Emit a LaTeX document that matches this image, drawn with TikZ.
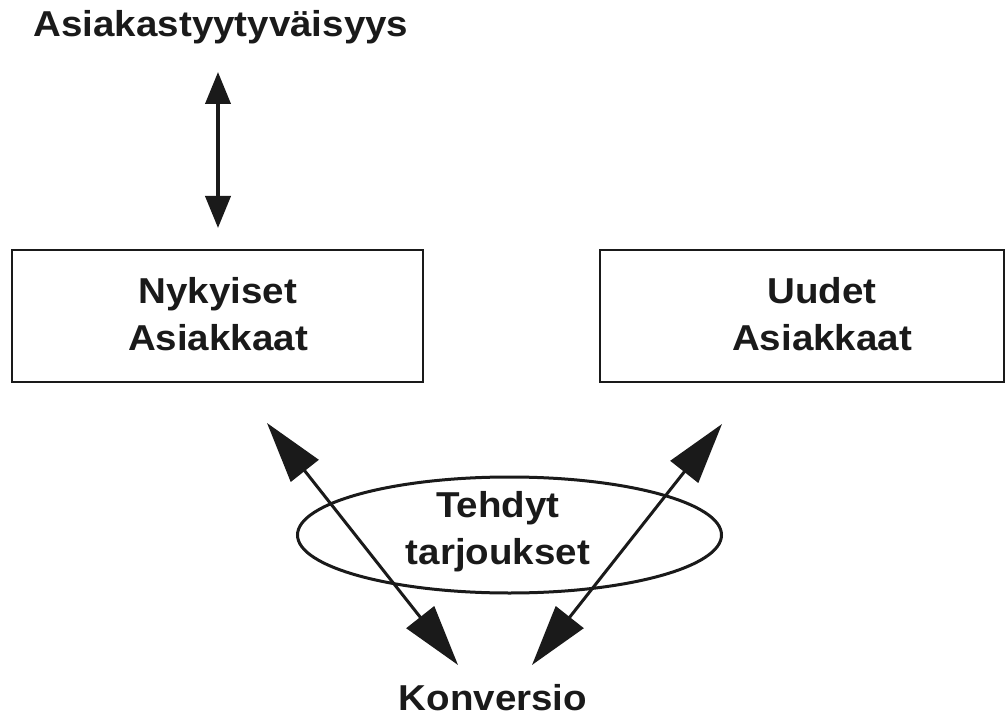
\documentclass[tikz,border=0pt]{standalone}
\usepackage{fontspec}
\setmainfont[FakeStretch=1.07]{Liberation Sans}
\usetikzlibrary{arrows.meta,shapes.geometric}
\definecolor{ink}{HTML}{1A1A1A}
\tikzset{
  lbl/.style={font=\bfseries\fontsize{36bp}{47bp}\selectfont, text=ink, inner sep=0pt, align=center},
  box/.style={draw=ink, line width=2.6bp, rectangle, minimum height=132bp, inner sep=0pt},
  oval/.style={draw=ink, line width=3bp, ellipse, minimum width=424bp, minimum height=116bp, inner sep=0pt},
  varrow/.style={draw=ink, line width=4bp, {Triangle[length=32bp,width=25bp]}-{Triangle[length=32bp,width=25bp]}},
  darrow/.style={draw=ink, line width=3bp, {Triangle[length=61bp,width=35bp]}-{Triangle[length=61bp,width=35bp]}},
}
\begin{document}
\begin{tikzpicture}[x=1bp,y=-1bp]
\fill[white] (0,0) rectangle (1006,727);
\useasboundingbox (0,0) rectangle (1006,727);
\node[lbl, anchor=base] (title) at (221,37) {Asiakastyytyväisyys};
\node[box, minimum width=411bp] (nyk) at (217.5,316) {};
\node[lbl] (nykt) at (218,314) {Nykyiset\\Asiakkaat};
\node[box, minimum width=404bp] (uud) at (802,316) {};
\node[lbl] (uudt) at (822,314) {Uudet\\Asiakkaat};
\node[oval] (teh) at (509.5,535) {};
\node[lbl] (teht) at (498,532) {Tehdyt\\tarjoukset};
\node[lbl, anchor=base] (konv) at (493,710) {Konversio};
\coordinate (v1) at (218,72);
\coordinate (v2) at (218,228);
\coordinate (a1) at (267,423);
\coordinate (a2) at (458,665);
\coordinate (b1) at (722,424);
\coordinate (b2) at (532,665);
\draw[varrow] (v1) -- (v2);
\draw[darrow] (a1) -- (a2);
\draw[darrow] (b1) -- (b2);
\end{tikzpicture}
\end{document}
